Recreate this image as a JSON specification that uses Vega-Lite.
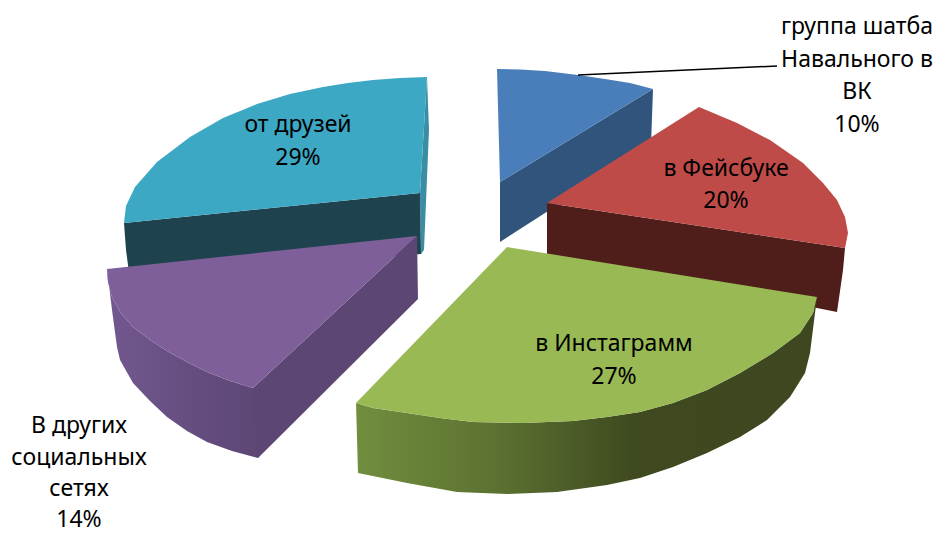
{
"$schema":"https://vega.github.io/schema/vega-lite/v6.json",
"width":936,"height":535,"padding":0,"autosize":"none",
"background":"white","config":{"view":{"stroke":null}},
"resolve":{"scale":{"fill":"independent"}},
"datasets":{
"back":[
{"f":"teal sliver","s":1,"x":427,"y":77},{"f":"teal sliver","s":2,"x":429,"y":130},{"f":"teal sliver","s":3,"x":424,"y":250},{"f":"teal sliver","s":4,"x":421,"y":254},{"f":"teal sliver","s":5,"x":420,"y":193},
{"f":"teal side","s":1,"x":124,"y":223},{"f":"teal side","s":2,"x":420,"y":193},{"f":"teal side","s":3,"x":421,"y":254},{"f":"teal side","s":4,"x":130,"y":280},{"f":"teal side","s":5,"x":126,"y":250},
{"f":"teal top","s":1,"x":427,"y":77},{"f":"teal top","s":2,"x":400,"y":78},{"f":"teal top","s":3,"x":373,"y":80},{"f":"teal top","s":4,"x":348,"y":83},{"f":"teal top","s":5,"x":323,"y":87},{"f":"teal top","s":6,"x":290,"y":94},{"f":"teal top","s":7,"x":257,"y":104},{"f":"teal top","s":8,"x":223,"y":118},{"f":"teal top","s":9,"x":190,"y":137},{"f":"teal top","s":10,"x":157,"y":162},{"f":"teal top","s":11,"x":135,"y":187},{"f":"teal top","s":12,"x":126,"y":206},{"f":"teal top","s":13,"x":124,"y":223},{"f":"teal top","s":14,"x":420,"y":193},
{"f":"blue side","s":1,"x":500,"y":182},{"f":"blue side","s":2,"x":653,"y":89},{"f":"blue side","s":3,"x":651,"y":145},{"f":"blue side","s":4,"x":500,"y":242},
{"f":"blue top","s":1,"x":497,"y":69},{"f":"blue top","s":2,"x":520,"y":69.5},{"f":"blue top","s":3,"x":545,"y":71},{"f":"blue top","s":4,"x":578,"y":75},{"f":"blue top","s":5,"x":605,"y":79},{"f":"blue top","s":6,"x":630,"y":83},{"f":"blue top","s":7,"x":653,"y":89},{"f":"blue top","s":8,"x":500,"y":182},
{"f":"red side","s":1,"x":547,"y":203},{"f":"red side","s":2,"x":845,"y":248},{"f":"red side","s":3,"x":843,"y":270},{"f":"red side","s":4,"x":837,"y":312},{"f":"red side","s":5,"x":817,"y":308},{"f":"red side","s":6,"x":547,"y":262},
{"f":"red top","s":1,"x":547,"y":203},{"f":"red top","s":2,"x":699,"y":107},{"f":"red top","s":3,"x":737,"y":123},{"f":"red top","s":4,"x":770,"y":140},{"f":"red top","s":5,"x":803,"y":163},{"f":"red top","s":6,"x":823,"y":183},{"f":"red top","s":7,"x":837,"y":200},{"f":"red top","s":8,"x":845,"y":217},{"f":"red top","s":9,"x":848,"y":233},{"f":"red top","s":10,"x":845,"y":248}
],
"purpleCurve":[
{"s":1,"x":107,"y":269},{"s":2,"x":108,"y":282},{"s":3,"x":112,"y":297},{"s":4,"x":120,"y":312},{"s":5,"x":133,"y":327},{"s":6,"x":150,"y":340},{"s":7,"x":167,"y":351},{"s":8,"x":187,"y":362},{"s":9,"x":207,"y":372},{"s":10,"x":230,"y":381},{"s":11,"x":253,"y":388},{"s":12,"x":260,"y":388},{"s":13,"x":264,"y":450},{"s":14,"x":258,"y":458},{"s":15,"x":232,"y":451},{"s":16,"x":207,"y":442},{"s":17,"x":187,"y":431},{"s":18,"x":167,"y":417},{"s":19,"x":150,"y":401},{"s":20,"x":133,"y":383},{"s":21,"x":120,"y":360},{"s":22,"x":117,"y":347},{"s":23,"x":112,"y":310}
],
"purple":[
{"f":"purple side","s":1,"x":253,"y":388},{"f":"purple side","s":2,"x":417,"y":236},{"f":"purple side","s":3,"x":418,"y":299},{"f":"purple side","s":4,"x":258,"y":458},
{"f":"purple top","s":1,"x":417,"y":236},{"f":"purple top","s":2,"x":107,"y":269},{"f":"purple top","s":3,"x":108,"y":282},{"f":"purple top","s":4,"x":112,"y":297},{"f":"purple top","s":5,"x":120,"y":312},{"f":"purple top","s":6,"x":133,"y":327},{"f":"purple top","s":7,"x":150,"y":340},{"f":"purple top","s":8,"x":167,"y":351},{"f":"purple top","s":9,"x":187,"y":362},{"f":"purple top","s":10,"x":207,"y":372},{"f":"purple top","s":11,"x":230,"y":381},{"f":"purple top","s":12,"x":253,"y":388}
],
"greenCurve":[
{"s":1,"x":356,"y":403},{"s":2,"x":373,"y":408},{"s":3,"x":407,"y":413},{"s":4,"x":440,"y":418},{"s":5,"x":473,"y":422},{"s":6,"x":523,"y":423},{"s":7,"x":573,"y":421},{"s":8,"x":607,"y":417},{"s":9,"x":640,"y":412},{"s":10,"x":673,"y":403},{"s":11,"x":707,"y":390},{"s":12,"x":740,"y":373},{"s":13,"x":773,"y":353},{"s":14,"x":800,"y":333},{"s":15,"x":813,"y":313},{"s":16,"x":817,"y":297},{"s":17,"x":810,"y":353},{"s":18,"x":805,"y":373},{"s":19,"x":790,"y":397},{"s":20,"x":767,"y":420},{"s":21,"x":740,"y":437},{"s":22,"x":707,"y":453},{"s":23,"x":673,"y":467},{"s":24,"x":640,"y":478},{"s":25,"x":607,"y":485},{"s":26,"x":557,"y":492},{"s":27,"x":507,"y":494},{"s":28,"x":457,"y":492},{"s":29,"x":407,"y":483},{"s":30,"x":358,"y":473}
],
"greenTop":[
{"s":1,"x":507,"y":247},{"s":2,"x":817,"y":297},{"s":3,"x":813,"y":313},{"s":4,"x":800,"y":333},{"s":5,"x":773,"y":353},{"s":6,"x":740,"y":373},{"s":7,"x":707,"y":390},{"s":8,"x":673,"y":403},{"s":9,"x":640,"y":412},{"s":10,"x":607,"y":417},{"s":11,"x":573,"y":421},{"s":12,"x":523,"y":423},{"s":13,"x":473,"y":422},{"s":14,"x":440,"y":418},{"s":15,"x":407,"y":413},{"s":16,"x":373,"y":408},{"s":17,"x":356,"y":403}
],
"leader":[{"s":1,"x":578,"y":75},{"s":2,"x":777,"y":66}],
"labels":[
{"t":"группа шатба","x":857,"y":26},{"t":"Навального в","x":857,"y":59},{"t":"ВК","x":857,"y":91},{"t":"10%","x":857,"y":124},
{"t":"в Фейсбуке","x":726,"y":168},{"t":"20%","x":726,"y":200},
{"t":"в Инстаграмм","x":614,"y":343},{"t":"27%","x":614,"y":376},
{"t":"от друзей","x":298,"y":124},{"t":"29%","x":298,"y":157},
{"t":"В других","x":79,"y":425},{"t":"социальных","x":79,"y":457},{"t":"сетях","x":79,"y":488},{"t":"14%","x":79,"y":519}
]},
"encoding":{
"x":{"field":"x","type":"quantitative","scale":{"domain":[0,936],"nice":false,"zero":false},"axis":null},
"y":{"field":"y","type":"quantitative","scale":{"domain":[0,535],"reverse":true,"nice":false,"zero":false},"axis":null}
},
"layer":[
{"data":{"name":"back"},"mark":{"type":"line","strokeWidth":0,"interpolate":"linear-closed"},
 "encoding":{"order":{"field":"s","type":"quantitative"},"detail":{"field":"f"},
 "fill":{"field":"f","type":"nominal","legend":null,"scale":{"domain":["teal sliver","teal side","teal top","blue side","blue top","red side","red top"],"range":["#3a8da3","#1f434e","#3ca8c4","#30547c","#4a7ebb","#4f1d1a","#be4b48"]}}}},
{"data":{"name":"purpleCurve"},"mark":{"type":"line","strokeWidth":0,"interpolate":"linear-closed","fill":{"gradient":"linear","x1":0,"x2":1,"y1":0,"y2":0,"stops":[{"offset":0,"color":"#72588f"},{"offset":0.6,"color":"#644c7e"},{"offset":1,"color":"#5c4774"}]}},
 "encoding":{"order":{"field":"s","type":"quantitative"}}},
{"data":{"name":"purple"},"mark":{"type":"line","strokeWidth":0,"interpolate":"linear-closed"},
 "encoding":{"order":{"field":"s","type":"quantitative"},"detail":{"field":"f"},
 "fill":{"field":"f","type":"nominal","legend":null,"scale":{"domain":["purple side","purple top"],"range":["#5c4774","#7e5f9a"]}}}},
{"data":{"name":"greenCurve"},"mark":{"type":"line","strokeWidth":0,"interpolate":"linear-closed","fill":{"gradient":"linear","x1":0,"x2":1,"y1":0,"y2":0,"stops":[{"offset":0,"color":"#718e3e"},{"offset":0.3,"color":"#5c7231"},{"offset":0.6,"color":"#3f4a20"},{"offset":1,"color":"#3e4720"}]}},
 "encoding":{"order":{"field":"s","type":"quantitative"}}},
{"data":{"name":"greenTop"},"mark":{"type":"line","strokeWidth":0,"interpolate":"linear-closed","fill":"#98b954"},
 "encoding":{"order":{"field":"s","type":"quantitative"}}},
{"data":{"name":"leader"},"mark":{"type":"line","stroke":"#000000","strokeWidth":1.5},
 "encoding":{"order":{"field":"s","type":"quantitative"}}},
{"data":{"name":"labels"},"mark":{"type":"text","font":"Noto Sans","fontSize":23,"dy":1,"color":"#000000","align":"center","baseline":"middle"},
 "encoding":{"text":{"field":"t","type":"nominal"}}}
]
}
